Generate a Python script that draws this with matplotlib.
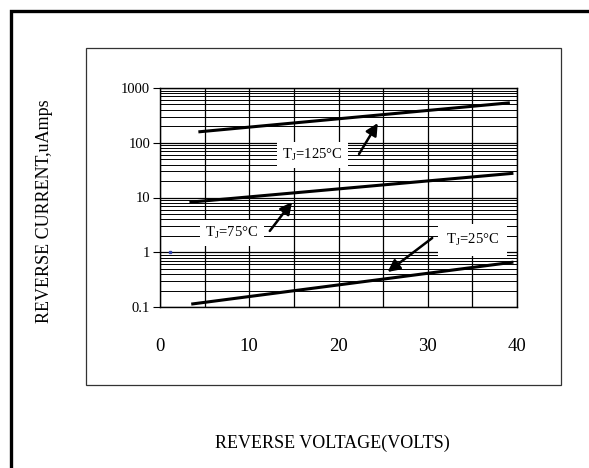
import matplotlib
matplotlib.use("Agg")
import matplotlib.pyplot as plt
from matplotlib.patches import Rectangle
from matplotlib.ticker import LogLocator, FixedLocator, NullFormatter

plt.rcParams['font.family'] = ['Liberation Serif', 'DejaVu Serif']
plt.rcParams['mathtext.fontset'] = 'custom'
plt.rcParams['mathtext.rm'] = 'Liberation Serif'

# curve end points (volts, uA), straight on the log scale
v_125 = [4.3, 39.2]
i_125 = [158, 537]
v_75 = [3.3, 39.6]
i_75 = [8.2, 27.7]
v_25 = [3.5, 39.6]
i_25 = [0.113, 0.66]

x_ticks = [0, 10, 20, 30, 40]
x_minor = [5, 15, 25, 35]
y_ticks = [0.1, 1, 10, 100, 1000]
y_labels = ["0.1", "1", "10", "100", "1000"]

W, H = 589, 468
fig = plt.figure(figsize=(W / 100, H / 100), dpi=100)

# outer thick frame and inner thin box
fig.add_artist(Rectangle((11 / W, -0.1), 1.2, 1.1 - 11 / H, transform=fig.transFigure,
                         fill=False, lw=2.4, ec="black"))
fig.add_artist(Rectangle((86 / W, 1 - 385 / H), (561 - 86) / W, (385 - 48) / H,
                         transform=fig.transFigure, fill=False, lw=0.9, ec="#333333"))

ax = fig.add_axes([160 / W, 1 - 307 / H, 357 / W, 219 / H])
ax.set_yscale("log")
ax.set_xlim(0, 40)
ax.set_ylim(0.1, 1000)

ax.xaxis.set_major_locator(FixedLocator(x_ticks))
ax.xaxis.set_minor_locator(FixedLocator(x_minor))
ax.yaxis.set_major_locator(FixedLocator(y_ticks))
ax.yaxis.set_minor_locator(LogLocator(base=10, subs=range(2, 10)))
ax.yaxis.set_minor_formatter(NullFormatter())
ax.set_yticklabels(y_labels)

ax.grid(True, which="major", axis="both", color="black", lw=0.9)
ax.grid(True, which="minor", axis="x", color="black", lw=0.9)
ax.grid(True, which="minor", axis="y", color="black", lw=0.7)
ax.tick_params(axis="x", which="both", length=0, pad=22, labelsize=13.5)
ax.tick_params(axis="y", which="major", length=5, width=0.8, labelsize=10.5, pad=2)
ax.tick_params(axis="y", which="minor", length=0)
for s in ax.spines.values():
    s.set_linewidth(1.0)
ax.set_axisbelow(True)

for v, i in [(v_125, i_125), (v_75, i_75), (v_25, i_25)]:
    ax.plot(v, i, color="black", lw=2.2, solid_capstyle="butt")

ax.plot([1.1], [1.0], marker="s", ms=1.5, color="#3344aa", lw=0)

arrow = dict(arrowstyle="-|>", color="black", lw=1.8, mutation_scale=18, shrinkA=0, shrinkB=0)
box = dict(boxstyle="square,pad=0.35", fc="white", ec="none")

ax.text(17.1, 59.7, r"T$_{\rm J}$=125°C", ha="center", va="center", fontsize=10.5, bbox=box)
ax.annotate("", xy=(24.4, 229), xytext=(22.3, 62.3), arrowprops=arrow)

ax.text(8.07, 2.25, r"T$_{\rm J}$=75°C", ha="center", va="center", fontsize=10.5, bbox=box)
ax.annotate("", xy=(14.8, 8.3), xytext=(12.3, 2.45), arrowprops=arrow)

ax.text(35.0, 1.67, r"T$_{\rm J}$=25°C", ha="center", va="center", fontsize=10.5,
        bbox=dict(boxstyle="square,pad=0.55", fc="white", ec="none"))
ax.annotate("", xy=(25.5, 0.436), xytext=(30.5, 1.82), arrowprops=arrow)

fig.text(45 / W, 1 - 211 / H, "REVERSE CURRENT,uAmps", rotation=90, ha="center", va="center", fontsize=13)
fig.text(215 / W, 1 - 443 / H, "REVERSE VOLTAGE(VOLTS)", ha="left", va="center", fontsize=13)

fig.savefig("out.png", dpi=100)
